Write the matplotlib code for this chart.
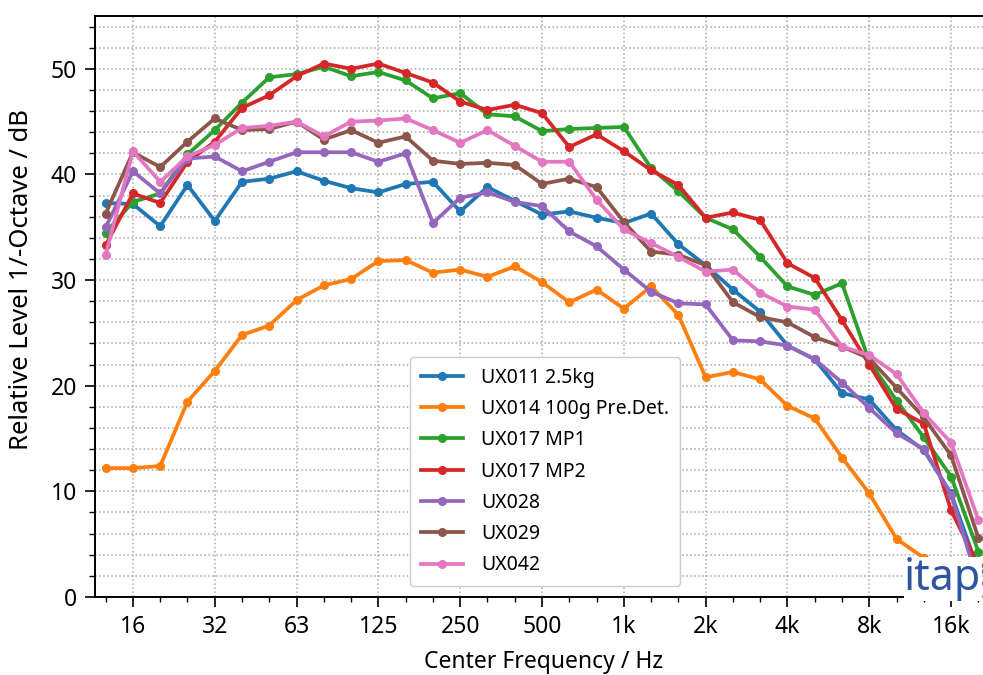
import numpy as np
import matplotlib
matplotlib.use("Agg")
import matplotlib.pyplot as plt
from matplotlib.ticker import FixedLocator, MultipleLocator, NullFormatter

plt.rcParams["font.family"] = ["Noto Sans", "DejaVu Sans"]

# third-octave band numbers (base-2, 1 kHz = 0), 12.5 Hz ... 20 kHz
band_no = np.arange(-19, 14)
f_mid = 1000.0 * 2.0 ** (band_no / 3.0)

tick_bands = [-18, -15, -12, -9, -6, -3, 0, 3, 6, 9, 12]
tick_labels = ["16", "32", "63", "125", "250", "500", "1k", "2k", "4k", "8k", "16k"]

labels = ["UX011 2.5kg", "UX014 100g Pre.Det.", "UX017 MP1", "UX017 MP2",
          "UX028", "UX029", "UX042"]

ux011 = [37.3, 37.2, 35.1, 39.0, 35.6, 39.3, 39.6, 40.3, 39.4, 38.7, 38.3,
         39.1, 39.3, 36.5, 38.8, 37.5, 36.2, 36.5, 35.9, 35.4, 36.3, 33.4,
         31.4, 29.1, 27.0, 23.8, 22.5, 19.3, 18.7, 15.8, 13.9, 9.8, 2.5]
ux014 = [12.2, 12.2, 12.4, 18.5, 21.4, 24.8, 25.7, 28.1, 29.5, 30.1, 31.8,
         31.9, 30.7, 31.0, 30.3, 31.3, 29.8, 27.9, 29.1, 27.3, 29.4, 26.7,
         20.8, 21.3, 20.6, 18.1, 16.9, 13.2, 9.8, 5.5, 3.7, 1.8, 0.0]
ux017_mp1 = [34.5, 37.4, 38.2, 41.9, 44.2, 46.8, 49.2, 49.5, 50.2, 49.3, 49.7,
             48.9, 47.2, 47.7, 45.7, 45.5, 44.1, 44.3, 44.4, 44.5, 40.6, 38.4,
             35.9, 34.8, 32.2, 29.4, 28.6, 29.7, 22.3, 18.6, 15.1, 11.4, 4.3]
ux017_mp2 = [33.3, 38.2, 37.3, 41.2, 43.1, 46.3, 47.5, 49.3, 50.5, 50.0, 50.5,
             49.6, 48.7, 46.9, 46.1, 46.6, 45.8, 42.6, 43.8, 42.2, 40.4, 39.0,
             35.9, 36.4, 35.7, 31.6, 30.2, 26.2, 22.0, 17.8, 16.4, 8.2, 3.0]
ux028 = [35.0, 40.3, 38.2, 41.5, 41.7, 40.3, 41.2, 42.1, 42.1, 42.1, 41.2,
         42.0, 35.4, 37.8, 38.3, 37.4, 37.0, 34.6, 33.2, 31.0, 28.9, 27.8,
         27.7, 24.3, 24.2, 23.8, 22.5, 20.3, 17.9, 15.5, 14.0, 9.7, 1.3]
ux029 = [36.3, 42.1, 40.7, 43.1, 45.3, 44.2, 44.3, 45.0, 43.3, 44.2, 43.0,
         43.6, 41.3, 41.0, 41.1, 40.9, 39.1, 39.6, 38.8, 35.5, 32.7, 32.4,
         31.4, 27.9, 26.5, 26.0, 24.6, 23.7, 22.6, 19.8, 17.0, 13.4, 5.6]
ux042 = [32.4, 42.2, 39.3, 41.7, 42.8, 44.4, 44.6, 45.0, 43.6, 45.0, 45.1,
         45.3, 44.2, 43.0, 44.2, 42.7, 41.2, 41.2, 37.6, 34.8, 33.5, 32.2,
         30.8, 31.0, 28.8, 27.5, 27.2, 23.7, 22.9, 21.1, 17.4, 14.6, 7.3]

series = [ux011, ux014, ux017_mp1, ux017_mp2, ux028, ux029, ux042]

fig = plt.figure(figsize=(9.83, 6.75), dpi=100)
ax = fig.add_axes([95 / 983, 78 / 675, 897 / 983, 581 / 675])

for vals, lab in zip(series, labels):
    ax.plot(f_mid, vals, "-o", lw=2.7, ms=5.5, label=lab, zorder=3)

ax.set_xscale("log")
ax.set_xlim(11.33, 22627)
ax.set_ylim(0, 55)

major_f = 1000.0 * 2.0 ** (np.array(tick_bands) / 3.0)
minor_f = [f for b, f in zip(band_no, f_mid) if b not in tick_bands]
ax.xaxis.set_major_locator(FixedLocator(major_f))
ax.xaxis.set_minor_locator(FixedLocator(minor_f))
ax.set_xticklabels(tick_labels)
ax.xaxis.set_minor_formatter(NullFormatter())
ax.yaxis.set_major_locator(MultipleLocator(10))
ax.yaxis.set_minor_locator(MultipleLocator(2))

ax.tick_params(which="major", direction="out", length=7, width=1.2,
               labelsize=16.5, pad=6)
ax.tick_params(which="minor", direction="out", length=3.5, width=1.0)
ax.tick_params(axis="y", which="minor", length=4)

ax.grid(which="major", axis="x", ls=":", lw=1.1, color="#a8a8a8")
ax.grid(which="both", axis="y", ls=":", lw=1.1, color="#a8a8a8")
ax.set_axisbelow(True)

for s in ax.spines.values():
    s.set_linewidth(1.4)

ax.set_xlabel("Center Frequency / Hz", fontsize=16.5)
ax.set_ylabel("Relative Level 1/-Octave / dB", fontsize=18.5)
ax.yaxis.set_label_coords(-0.068, 0.546)
ax.xaxis.labelpad = 8

leg = ax.legend(loc="upper left", bbox_to_anchor=(0.351, 0.413),
                borderaxespad=0, fontsize=14, handlelength=2.2,
                handletextpad=0.9, labelspacing=0.58, borderpad=0.55,
                framealpha=1.0, edgecolor="#cccccc")
leg.set_zorder(6)

# institute logo in the lower right corner
ax.text(0.902, 0.012, "itap", transform=ax.transAxes, fontsize=31,
        fontweight="light", color="#2f55a0", ha="left", va="baseline",
        zorder=5, bbox=dict(facecolor="white", edgecolor="none", pad=0.3))

fig.savefig("out.png", dpi=100)
